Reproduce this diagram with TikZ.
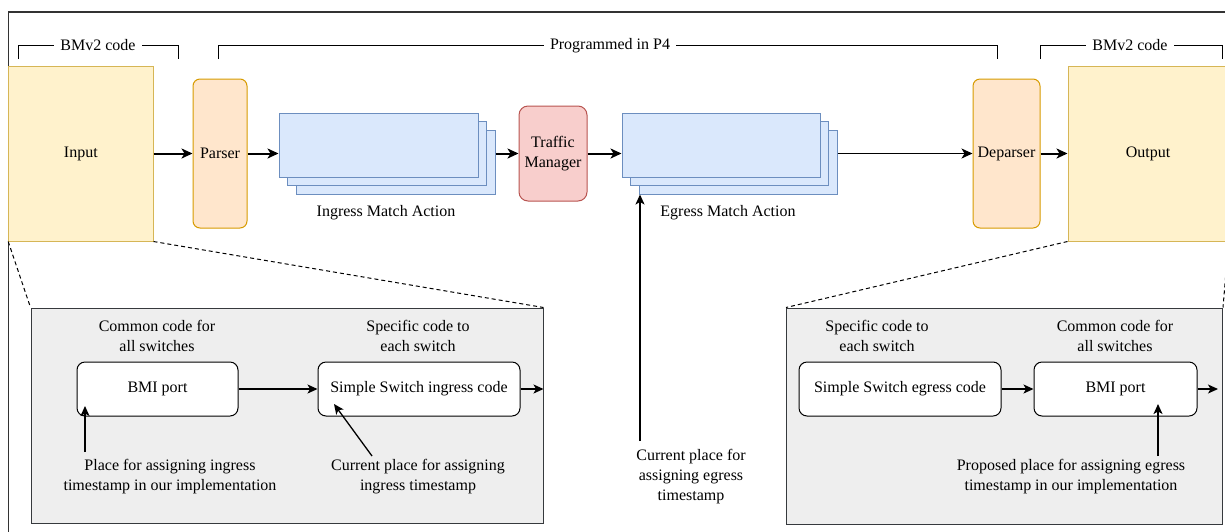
\documentclass[tikz,border=0pt]{standalone}
\usepackage{fontspec}
\setmainfont{Liberation Serif}
\usetikzlibrary{arrows.meta,calc}
\definecolor{yfill}{HTML}{FFF2CC}\definecolor{ydraw}{HTML}{D6B656}
\definecolor{ofill}{HTML}{FFE6CC}\definecolor{odraw}{HTML}{D79B00}
\definecolor{bfill}{HTML}{DAE8FC}\definecolor{bdraw}{HTML}{6C8EBF}
\definecolor{rfill}{HTML}{F8CECC}\definecolor{rdraw}{HTML}{B85450}
\definecolor{gfill}{HTML}{EEEEEE}\definecolor{gdraw}{HTML}{36393D}
\definecolor{frame}{HTML}{333333}
\begin{document}
\begin{tikzpicture}[x=1pt,y=-1pt,
  font=\fontsize{16}{20}\selectfont,
  box/.style={draw, line width=1pt, inner sep=0pt, align=center},
  ybox/.style={box, fill=yfill, draw=ydraw},
  obox/.style={box, fill=ofill, draw=odraw, rounded corners=7pt},
  bbox/.style={box, fill=bfill, draw=bdraw},
  rbox/.style={box, fill=rfill, draw=rdraw, rounded corners=9pt},
  gbox/.style={box, fill=gfill, draw=gdraw},
  wbox/.style={box, fill=white, draw=black, rounded corners=8pt},
  lbl/.style={align=center, inner sep=0pt},
  brk/.style={line width=1pt, draw=black},
  brklbl/.style={fill=white, inner xsep=6pt, inner ysep=1pt},
  arr/.style={line width=2pt, -{Stealth[length=11pt,width=10pt,inset=3pt]}},
  iarr/.style={line width=1.3pt, -{Stealth[length=10pt,width=9pt,inset=2.5pt]}},
  dsh/.style={line width=1pt, dash pattern=on 4pt off 3pt}]
\useasboundingbox (0,0) rectangle (1225,531);
\clip (0,0) rectangle (1225,531);

% frame
\coordinate (fbl) at (8.7,540);
\coordinate (ftl) at (8.7,12);
\coordinate (ftr) at (1240,12);
\draw[line width=1.3pt, draw=frame] (fbl) -- (ftl) -- (ftr);

% brackets
\coordinate (b1a) at (18,59); \coordinate (b1b) at (178,59);
\draw[brk] (b1a) -- ++(0,-13.5) -| (b1b);
\node[brklbl] (b1t) at (98,45.5) {BMv2 code};
\coordinate (b2a) at (218,59); \coordinate (b2b) at (997,59);
\draw[brk] (b2a) -- ++(0,-13.5) -| (b2b);
\node[brklbl] (b2t) at (610,45.5) {Programmed in P4};
\coordinate (b3a) at (1040,59); \coordinate (b3b) at (1222,59);
\draw[brk] (b3a) -- ++(0,-13.5) -| (b3b);
\node[brklbl] (b3t) at (1130,45.5) {BMv2 code};

% top pipeline
\node[ybox, minimum width=144.3pt, minimum height=175pt] (input) at (80.85,153.5) {Input};
\node[obox, minimum width=54pt, minimum height=149pt] (parser) at (220,153.5) {Parser};
\node[bbox, minimum width=199pt, minimum height=64pt] (ingC) at (395.5,162) {};
\node[bbox, minimum width=199pt, minimum height=64pt] (ingB) at (387,153.5) {};
\node[bbox, minimum width=199pt, minimum height=64pt] (ingA) at (378.5,145) {};
\node[lbl] (ingL) at (386,213) {Ingress Match Action};
\node[rbox, minimum width=68pt, minimum height=95pt] (tm) at (553,153.5) {Traffic\\Manager};
\node[bbox, minimum width=198pt, minimum height=64pt] (egC) at (738,162) {};
\node[bbox, minimum width=198pt, minimum height=64pt] (egB) at (729.5,153.5) {};
\node[bbox, minimum width=198pt, minimum height=64pt] (egA) at (721,145) {};
\node[lbl] (egL) at (728,213) {Egress Match Action};
\node[obox, minimum width=67pt, minimum height=149pt] (dep) at (1006.5,153.5) {Deparser};
\node[ybox, minimum width=160pt, minimum height=175pt] (output) at (1148,153.5) {Output};

\draw[arr] (input.east) -- (parser.west);
\draw[arr] (parser.east) -- (ingA.west |- parser.east);
\draw[arr] (ingC.east |- tm.west) -- (tm.west);
\draw[arr] (tm.east) -- (egA.west |- tm.east);
\draw[line width=1.3pt, -{Stealth[length=11pt,width=10pt,inset=3pt]}] (egC.east |- dep.west) -- (dep.west);
\draw[arr] (dep.east) -- (output.west);

% egress timestamp arrow
\coordinate (egt) at (640,441);
\draw[iarr] (egt) -- (egt |- egC.south);
\node[lbl] (egtL) at (691,477) {Current place for\\assigning egress\\timestamp};

% grey boxes
\node[gbox, minimum width=512pt, minimum height=215pt] (lg) at (287,415.5) {};
\node[gbox, minimum width=436pt, minimum height=216pt] (rg) at (1004.5,416) {};
\draw[dsh] (input.south west) -- (lg.north west);
\draw[dsh] (input.south east) -- (lg.north east);
\draw[dsh] (output.south west) -- (rg.north west);
\draw[dsh] (output.south east) -- (rg.north east);

% left grey content
\node[lbl] (lgc1) at (157,336) {Common code for\\all switches};
\node[lbl] (lgc2) at (418,336) {Specific code to\\each switch};
\node[wbox, minimum width=161pt, minimum height=54pt] (bmiL) at (157.5,389) {BMI port};
\node[wbox, minimum width=202pt, minimum height=54pt] (ssi) at (419,389) {Simple Switch ingress code};
\draw[iarr] (bmiL.east) -- (ssi.west);
\draw[iarr] (ssi.east) -- (lg.east |- ssi.east);
\coordinate (a1s) at (85,452); \coordinate (a1e) at (85,406);
\draw[iarr] (a1s) -- (a1e);
\coordinate (a2s) at (372,456); \coordinate (a2e) at (334,404);
\draw[iarr] (a2s) -- (a2e);
\node[lbl] (lgb1) at (170,477) {Place for assigning ingress\\timestamp in our implementation};
\node[lbl] (lgb2) at (418,477) {Current place for assigning\\ingress timestamp};

% right grey content
\node[lbl] (rgc1) at (877,336) {Specific code to\\each switch};
\node[lbl] (rgc2) at (1115,336) {Common code for\\all switches};
\node[wbox, minimum width=202pt, minimum height=54pt] (sse) at (900,389) {Simple Switch egress code};
\node[wbox, minimum width=163pt, minimum height=54pt] (bmiR) at (1115.5,389) {BMI port};
\draw[iarr] (sse.east) -- (bmiR.west);
\coordinate (rout) at (1218,389);
\draw[iarr] (bmiR.east) -- (rout);
\coordinate (a3s) at (1158,456); \coordinate (a3e) at (1158,404);
\draw[iarr] (a3s) -- (a3e);
\node[lbl] (rgb1) at (1071,477) {Proposed place for assigning egress\\timestamp in our implementation};
\end{tikzpicture}
\end{document}
